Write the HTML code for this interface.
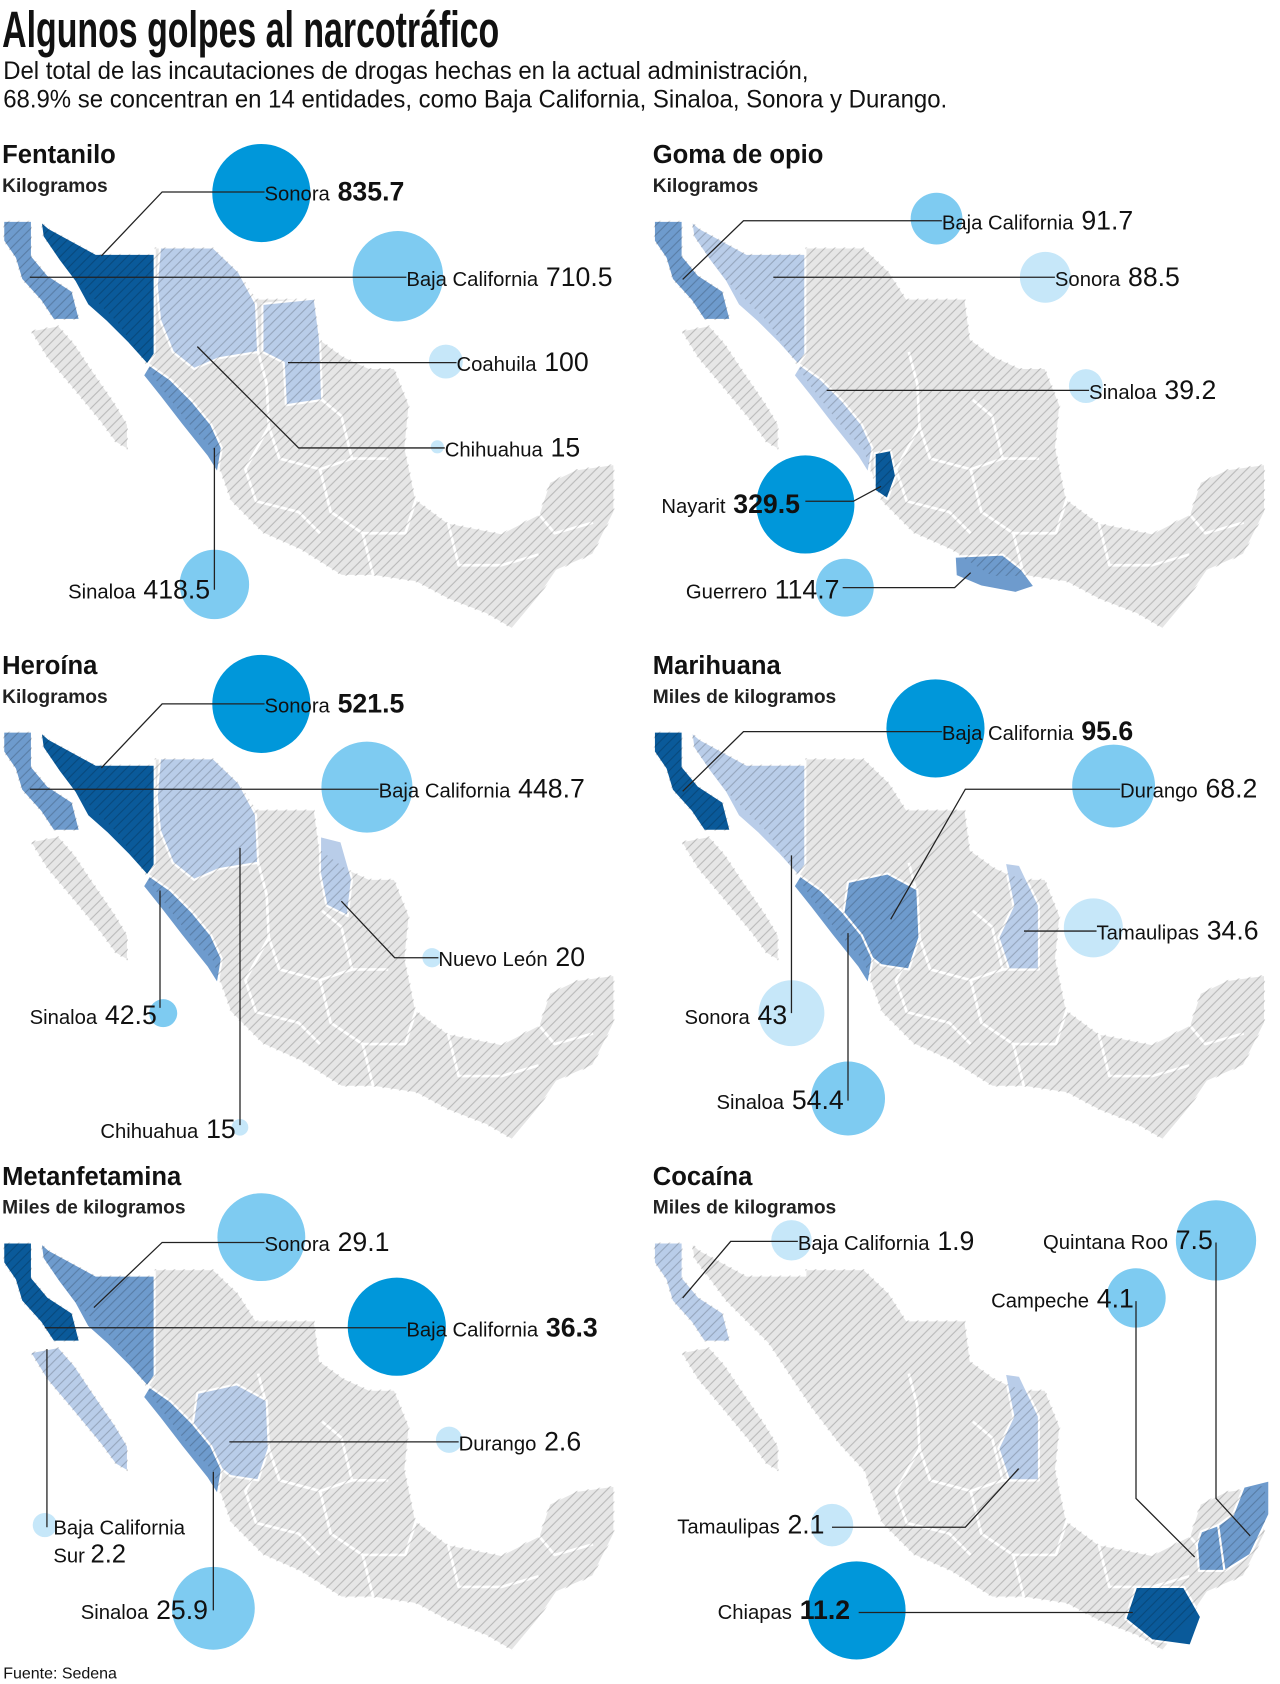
<!DOCTYPE html>
<html><head><meta charset="utf-8">
<style>
html,body{margin:0;padding:0;background:#fff;}
svg{display:block;}
text{font-family:"Liberation Sans Narrow","Liberation Sans",sans-serif;}
</style></head>
<body>
<svg id="chart" width="1280" height="1684" viewBox="0 0 1200 1579" preserveAspectRatio="none" xmlns="http://www.w3.org/2000/svg">
<defs>
<pattern id="hatch" patternUnits="userSpaceOnUse" width="9" height="9">
<path d="M-1,10 L10,-1 M-5,5 L5,-5 M4,14 L14,4" stroke="rgba(0,0,0,0.2)" stroke-width="1"/>
</pattern>
</defs>
<text x="2" y="44" font-size="48" font-weight="bold" textLength="466" lengthAdjust="spacingAndGlyphs" fill="#111">Algunos golpes al narcotráfico</text>
<text x="3" y="74" font-size="23" textLength="755" lengthAdjust="spacingAndGlyphs" fill="#111">Del total de las incautaciones de drogas hechas en la actual administración,</text>
<text x="3" y="101" font-size="23" textLength="885" lengthAdjust="spacingAndGlyphs" fill="#111">68.9%  se concentran en 14 entidades, como  Baja California, Sinaloa, Sonora y  Durango.</text>
<text x="3" y="1574" font-size="15" fill="#111" font-family="Liberation Sans">Fuente: Sedena</text>
</svg>
<script>
// ---- data ----
const panelTitles = ["Fentanilo","Goma de opio","Heroína","Marihuana","Metanfetamina","Cocaína"];
const panelUnits = ["Kilogramos","Kilogramos","Kilogramos","Miles de kilogramos","Miles de kilogramos","Miles de kilogramos"];
const states1 = ["Sonora","Baja California","Coahuila","Chihuahua","Sinaloa"];
const values1 = [835.7, 710.5, 100, 15, 418.5];
const states2 = ["Baja California","Sonora","Sinaloa","Nayarit","Guerrero"];
const values2 = [91.7, 88.5, 39.2, 329.5, 114.7];
const states3 = ["Sonora","Baja California","Nuevo León","Sinaloa","Chihuahua"];
const values3 = [521.5, 448.7, 20, 42.5, 15];
const states4 = ["Baja California","Durango","Tamaulipas","Sonora","Sinaloa"];
const values4 = [95.6, 68.2, 34.6, 43, 54.4];
const states5 = ["Sonora","Baja California","Durango","Baja California Sur","Sinaloa"];
const values5 = [29.1, 36.3, 2.6, 2.2, 25.9];
const states6 = ["Baja California","Quintana Roo","Campeche","Tamaulipas","Chiapas"];
const values6 = [1.9, 7.5, 4.1, 2.1, 11.2];
const statesAll = [states1,states2,states3,states4,states5,states6];
const valuesAll = [values1,values2,values3,values4,values5,values6];

// ---- layout (not data) ----
const NS = "http://www.w3.org/2000/svg";
const svg = document.getElementById('chart');
const panelOrigin = [[0,140],[610,140],[0,619],[610,619],[0,1098],[610,1098]];
const COL = {dark:"#0a5a9a", mid:"#6e9bcd", light:"#b9cde9"};
const BUB = {dark:"#0097da", mid:"#7ecbf1", light:"#c6e7f9"};
const RMAX = 46;
const rScale = (v, max) => RMAX * Math.sqrt(v / max);

const mexico = [
 "3,207 30,207 30,240 45,258 68,273 75,300 50,300 38,282 20,262 14,242 3,226",
 "28,310 55,305 70,322 86,346 108,378 120,398 120,422 108,415 94,396 66,362 44,336",
 "38,207 46,214 90,238 145,238 145,232 200,232 224,255 240,280 295,280 300,318 322,334 346,345 370,345 384,380 380,420 390,468 420,490 470,500 505,482 515,452 540,440 576,435 576,480 556,520 522,535 505,560 480,590 456,576 420,562 390,546 350,540 320,540 282,516 246,500 216,470 206,442 200,422 176,396 150,362 130,332 110,302 90,282 70,262 55,242 40,222"
];
const innerBorders = [
 "242,330 250,360 252,400 262,430 300,440 330,430 364,430",
 "252,400 230,440 240,470 280,480 300,500",
 "300,440 310,480 340,500 380,500 390,468",
 "302,375 320,390 330,430",
 "340,500 350,540",
 "420,490 430,530 470,530 505,520",
 "505,482 520,500 556,490"
];
const statePoly = {
 "Baja California":"3,207 30,207 30,240 45,258 68,273 75,300 50,300 38,282 20,262 14,242 3,226",
 "Baja California Sur":"28,310 55,305 70,322 86,346 108,378 120,398 120,422 108,415 94,396 66,362 44,336",
 "Sonora":"38,207 46,214 90,238 145,238 145,332 138,342 120,322 100,302 82,286 70,264 55,244 40,222",
 "Chihuahua":"150,232 200,232 224,255 240,285 242,330 205,336 182,346 162,330 150,300 147,268",
 "Coahuila":"246,285 295,280 300,318 302,375 268,380 266,340 246,330",
 "Sinaloa":"140,342 160,356 180,376 198,398 208,420 204,444 194,428 170,398 150,372 134,352",
 "Durango":"185,348 222,340 250,355 252,400 242,430 216,426 196,410 180,382",
 "Nayarit":"210,425 225,422 230,446 222,468 210,460",
 "Guerrero":"285,522 330,520 348,534 360,550 342,556 310,550 286,540",
 "Nuevo León":"300,305 320,310 330,345 326,380 306,370 300,340",
 "Tamaulipas":"332,330 346,332 364,370 364,430 336,430 326,400 340,370",
 "Quintana Roo":"556,436 580,430 580,462 562,500 538,515 532,472 546,462",
 "Campeche":"516,478 532,472 538,515 514,515 512,490",
 "Chiapas":"455,530 500,530 516,558 506,585 470,580 445,560"
};
const highlight = [
 {"Sonora":"dark","Baja California":"mid","Chihuahua":"light","Coahuila":"light","Sinaloa":"mid"},
 {"Baja California":"mid","Sonora":"light","Sinaloa":"light","Nayarit":"dark","Guerrero":"mid"},
 {"Sonora":"dark","Baja California":"mid","Chihuahua":"light","Nuevo León":"light","Sinaloa":"mid"},
 {"Baja California":"dark","Sonora":"light","Durango":"mid","Sinaloa":"mid","Tamaulipas":"light"},
 {"Baja California":"dark","Sonora":"mid","Durango":"light","Baja California Sur":"light","Sinaloa":"mid"},
 {"Baja California":"light","Tamaulipas":"light","Campeche":"mid","Quintana Roo":"mid","Chiapas":"dark"}
];
const layout = [
 [ {c:[245,181],t:[248,180],s:'l',line:[[248,180],[152,180],[95,240]],col:'dark',b:1},
   {c:[373,259],t:[381,260],s:'l',line:[[381,260],[28,260]],col:'mid'},
   {c:[418,339],t:[428,340],s:'l',line:[[428,340],[270,340]],col:'light'},
   {c:[410,419],t:[417,420],s:'l',line:[[417,420],[280,420],[185,325]],col:'light'},
   {c:[201,548],t:[197,553],s:'r',line:[[201,420],[201,553]],col:'mid'} ],
 [ {c:[878,205],t:[883,207],s:'l',line:[[883,207],[697,207],[640,262]],col:'mid'},
   {c:[980,260],t:[989,260],s:'l',line:[[989,260],[725,260]],col:'light'},
   {c:[1018,362],t:[1021,366],s:'l',line:[[1021,366],[775,366]],col:'light'},
   {c:[755,473],t:[750,473],s:'r',line:[[755,470],[800,470],[826,456]],col:'dark',b:1},
   {c:[792,551],t:[787,553],s:'r',line:[[790,551],[895,551],[910,537]],col:'mid'} ],
 [ {c:[245,660],t:[248,660],s:'l',line:[[248,660],[152,660],[95,720]],col:'dark',b:1},
   {c:[344,738],t:[355,740],s:'l',line:[[355,740],[28,740]],col:'mid'},
   {c:[405,898],t:[411,898],s:'l',line:[[411,898],[370,898],[320,845]],col:'light'},
   {c:[153,950],t:[147,952],s:'r',line:[[150,835],[150,945]],col:'mid'},
   {c:[225,1057],t:[221,1059],s:'r',line:[[225,795],[225,1055]],col:'light'} ],
 [ {c:[877,683],t:[883,686],s:'l',line:[[883,686],[697,686],[640,742]],col:'dark',b:1},
   {c:[1044,737],t:[1050,740],s:'l',line:[[1050,740],[905,740],[835,862]],col:'mid'},
   {c:[1025,870],t:[1028,873],s:'l',line:[[1028,873],[960,873]],col:'light'},
   {c:[742,950],t:[738,952],s:'r',line:[[742,802],[742,950]],col:'light'},
   {c:[795,1030],t:[791,1032],s:'r',line:[[795,875],[795,1032]],col:'mid'} ],
 [ {c:[245,1160],t:[248,1165],s:'l',line:[[248,1165],[152,1165],[88,1226]],col:'mid'},
   {c:[372,1244],t:[381,1245],s:'l',line:[[381,1245],[42,1245]],col:'dark',b:1},
   {c:[421,1350],t:[430,1352],s:'l',line:[[430,1352],[215,1352]],col:'light'},
   {c:[42,1430],t:[50,1432],s:'l2',line:[[44,1265],[44,1432]],col:'light'},
   {c:[200,1508],t:[195,1510],s:'r',line:[[200,1380],[200,1510]],col:'mid'} ],
 [ {c:[742,1163],t:[748,1164],s:'l',line:[[748,1164],[685,1164],[640,1217]],col:'light'},
   {c:[1140,1163],t:[1137,1163],s:'r',line:[[1140,1165],[1140,1405],[1172,1440]],col:'mid'},
   {c:[1065,1217],t:[1063,1218],s:'r',line:[[1065,1220],[1065,1405],[1120,1460]],col:'mid'},
   {c:[780,1430],t:[773,1430],s:'r',line:[[780,1432],[905,1432],[955,1377]],col:'light'},
   {c:[803,1510],t:[797,1510],s:'r',line:[[805,1512],[1062,1512]],col:'dark',b:1} ]
];

function el(tag, attrs, parent){
  const e = document.createElementNS(NS, tag);
  for (const k in attrs) e.setAttribute(k, attrs[k]);
  (parent||svg).appendChild(e);
  return e;
}
const fmt = v => String(v);

for (let p = 0; p < 6; p++){
  const [ox, oy] = panelOrigin[p];
  const g = el('g', {});
  
  
  const t = el('text', {x: ox+2, y: oy+13, 'font-size': 24, 'font-weight':'bold', fill:'#111', 'font-family':'Liberation Sans'}, g);
  t.textContent = panelTitles[p];
  
  
  const u = el('text', {x: ox+2, y: oy+40, 'font-size': 18, 'font-weight':'bold', fill:'#222', 'font-family':'Liberation Sans'}, g);
  u.textContent = panelUnits[p];
  
  

  const map = el('g', {transform: 'translate(' + ox + ',' + (oy - 140) + ')'}, g);
  
  
  mexico.forEach(pts => {
    const m = el('polygon', {points: pts, fill:'#e6e6e6', stroke:'#fff', 'stroke-width':2, 'stroke-linejoin':'round'}, map);
    
    
  });
  innerBorders.forEach(pts => {
    const b = el('polyline', {points: pts, fill:'none', stroke:'#fff', 'stroke-width':2.5, 'stroke-linejoin':'round'}, map);
    
    
  });
  const hl = highlight[p];
  for (const s in hl){
    const sp = el('polygon', {points: statePoly[s], fill: COL[hl[s]], stroke:'#fff', 'stroke-width':2, 'stroke-linejoin':'round'}, map);
    
    
  }
  mexico.forEach(pts => {
    const h = el('polygon', {points: pts, fill:'url(#hatch)'}, map);
    
    
  });

  const names = statesAll[p], vals = valuesAll[p];
  const max = Math.max.apply(null, vals);
  for (let i = 0; i < names.length; i++){
    const L = layout[p][i];
    const b = el('circle', {cx: L.c[0], cy: L.c[1], r: rScale(vals[i], max), fill: BUB[L.col]}, g);
    
    
  }
  for (let i = 0; i < names.length; i++){
    const L = layout[p][i];
    const ln = el('polyline', {points: L.line.map(q => q.join(',')).join(' '), fill:'none', stroke:'#222', 'stroke-width':1.2}, g);
    
    
    const valAttrs = L.b ? {'font-weight':'bold'} : {};
    if (L.s === 'l2'){
      const a = el('text', {x: L.t[0], y: L.t[1]+7, 'font-size': 19, fill:'#111'}, g);
      a.textContent = 'Baja California';
      
      
      const c = el('text', {x: L.t[0], y: L.t[1]+33, 'font-size': 19, fill:'#111'}, g);
      
      
      c.appendChild(document.createTextNode('Sur '));
      const v = el('tspan', {'font-size': 24}, c);
      v.textContent = fmt(vals[i]);
      continue;
    }
    const tx = el('text', {x: L.t[0], y: L.t[1]+8, 'font-size': 19, fill:'#111', 'text-anchor': L.s === 'r' ? 'end' : 'start'}, g);
    
    
    tx.appendChild(document.createTextNode(names[i] + ' '));
    const v = el('tspan', Object.assign({'font-size': 25, dx: 2}, valAttrs), tx);
    
    
    v.textContent = fmt(vals[i]);
  }
}
</script>
</body></html>
